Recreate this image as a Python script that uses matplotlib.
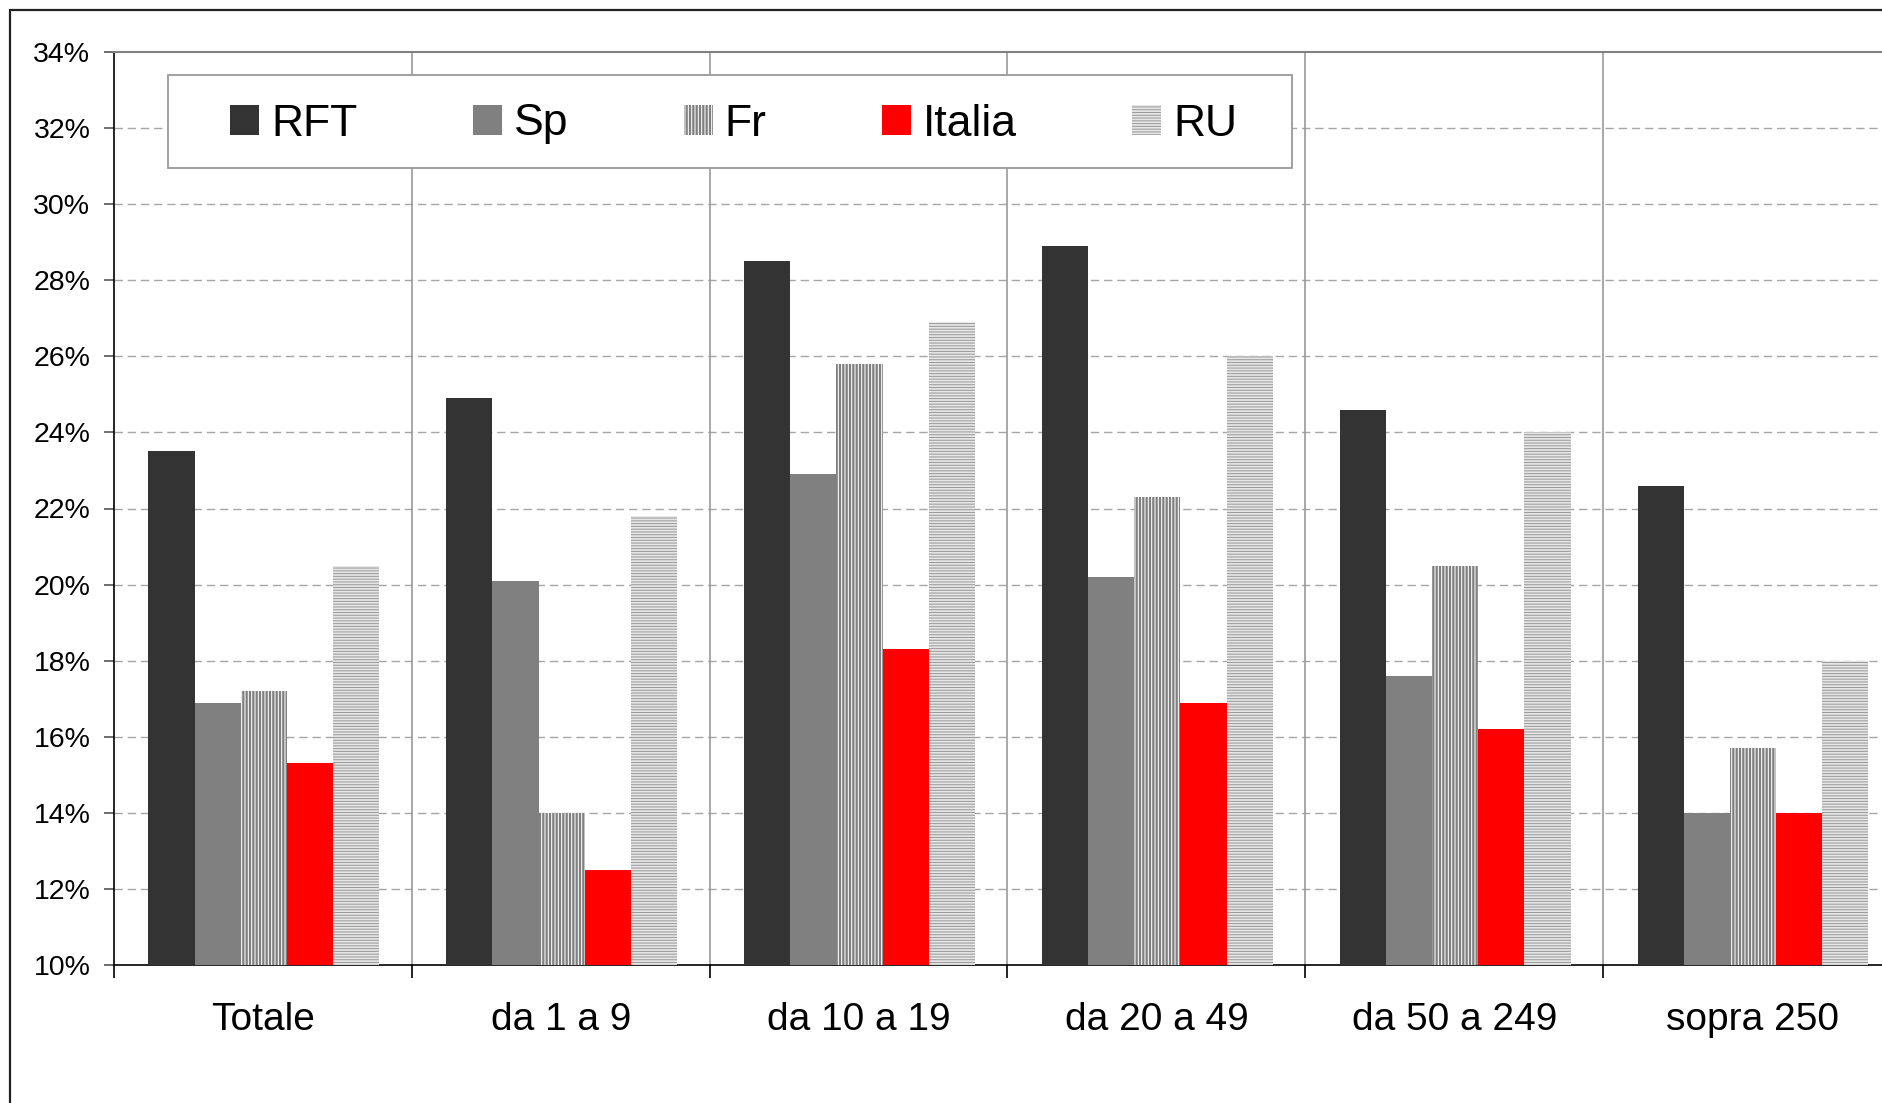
import numpy as np
import matplotlib
matplotlib.use('Agg')
import matplotlib.pyplot as plt
from matplotlib.patches import Rectangle
from matplotlib.ticker import PercentFormatter, FixedLocator, NullFormatter

plt.rcParams['font.family'] = ['Liberation Sans', 'DejaVu Sans']
plt.rcParams['hatch.linewidth'] = 0.75

# classi dimensionali e paesi
classi = ['Totale', 'da 1 a 9', 'da 10 a 19', 'da 20 a 49', 'da 50 a 249', 'sopra 250']
paesi = ['RFT', 'Sp', 'Fr', 'Italia', 'RU']

# valori in percentuale
rft = [23.5, 24.9, 28.5, 28.9, 24.6, 22.6]
sp = [16.9, 20.1, 22.9, 20.2, 17.6, 14.0]
fr = [17.2, 14.0, 25.8, 22.3, 20.5, 15.7]
italia = [15.3, 12.5, 18.3, 16.9, 16.2, 14.0]
ru = [20.5, 21.8, 26.9, 26.0, 24.0, 18.0]

y_ticks = np.arange(10, 35, 2)

stili = [
    dict(color='#333333', linewidth=0),
    dict(color='#808080', linewidth=0),
    dict(facecolor='#808080', edgecolor='white', hatch='|||||', linewidth=0),
    dict(color='#ff0000', linewidth=0),
    dict(facecolor='#e6e6e6', edgecolor='#9c9c9c', hatch='------', linewidth=0),
]

W, H = 1883, 1103
fig = plt.figure(figsize=(W / 100, H / 100), dpi=100)
# area del grafico in pixel: sinistra 114, destra 1901, alto 52, basso 965
ax = fig.add_axes([114 / W, 1 - 965 / H, 1787 / W, 913 / H])

x = np.arange(len(classi))
larg = 0.155
serie = [rft, sp, fr, italia, ru]
for j, (nome, val, st) in enumerate(zip(paesi, serie, stili)):
    ax.bar(x + 0.503 + (j - 2) * larg, val, width=larg, label=nome, zorder=3, **st)

ax.set_xlim(0, len(classi))
ax.set_ylim(10, 34)
ax.yaxis.set_major_locator(FixedLocator(y_ticks))
ax.yaxis.set_major_formatter(PercentFormatter(100, decimals=0))

# griglia tratteggiata e divisori verticali
for v in y_ticks[1:-1]:
    ax.axhline(v, color='#a6a6a6', linewidth=1.0, dashes=(6, 3.5), zorder=1)
for b in range(1, len(classi) + 1):
    ax.axvline(b, color='#999999', linewidth=1.2, zorder=2)

ax.set_xticks(np.arange(len(classi) + 1))
ax.xaxis.set_major_formatter(NullFormatter())
ax.set_xticks(x + 0.5, minor=True)
ax.set_xticklabels(classi, minor=True, fontsize=28)
ax.tick_params(axis='x', which='major', direction='out', length=9, width=1.2, color='black')
ax.tick_params(axis='x', which='minor', length=0, pad=27)
ax.tick_params(axis='y', direction='out', length=7, width=1.2, color='#555555',
               labelsize=20.5, pad=10)

for s in ['left', 'bottom']:
    ax.spines[s].set_color('black')
    ax.spines[s].set_linewidth(1.2)
ax.spines['top'].set_color('#808080')
ax.spines['top'].set_linewidth(1.5)
ax.spines['right'].set_visible(False)

# riquadro della legenda
x0, x1 = (168 - 114) / 1787, (1292 - 114) / 1787
y0, y1 = (965 - 168) / 913, (965 - 75) / 913
ax.add_patch(Rectangle((x0, y0), x1 - x0, y1 - y0, transform=ax.transAxes,
                       facecolor='white', edgecolor='#999999', linewidth=1.3, zorder=4))
leg = ax.legend(loc='center left', bbox_to_anchor=((230 - 114) / 1787, (965 - 124) / 913),
                ncol=5, frameon=False, fontsize=32, borderpad=0, borderaxespad=0,
                handlelength=0.65, handleheight=0.65, handletextpad=0.27,
                columnspacing=2.6)
leg.set_zorder(5)

# cornice esterna
fig.patches.append(Rectangle((10 / W, -0.5), 2, 1.5 - 10 / H, transform=fig.transFigure,
                             fill=False, edgecolor='#222222', linewidth=1.6))

fig.savefig('out.png', dpi=100)
